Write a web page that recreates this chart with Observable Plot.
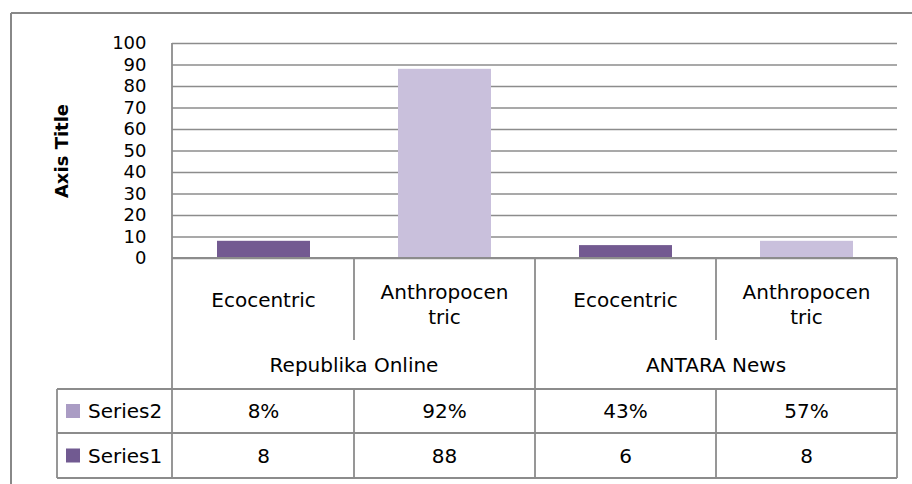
<!DOCTYPE html>
<html><head><meta charset="utf-8">
<script src="https://cdn.jsdelivr.net/npm/d3@7"></script>
<script src="https://cdn.jsdelivr.net/npm/@observablehq/plot@0.6"></script>
<style>
html,body{margin:0;padding:0;background:#fff;}
#chart{width:912px;height:484px;position:relative;overflow:hidden;}
</style></head><body><div id="chart"></div>
<script>
// ---- data ----
const groups = ["Republika Online", "Republika Online", "ANTARA News", "ANTARA News"];
const categories = ["Ecocentric", "Anthropocentric", "Ecocentric", "Anthropocentric"];
const categoryLines = [["Ecocentric"], ["Anthropocen", "tric"], ["Ecocentric"], ["Anthropocen", "tric"]];
const groupNames = ["Republika Online", "ANTARA News"];
const series1 = [8, 88, 6, 8];
const series2Pct = [8, 92, 43, 57];
const seriesNames = ["Series2", "Series1"];
const yTicks = [0, 10, 20, 30, 40, 50, 60, 70, 80, 90, 100];
const axisTitle = "Axis Title";

// ---- style ----
const FONT = "'DejaVu Sans', sans-serif";
const darkPurple = "#735a91";
const lightPurple = "#c9c0dc";
const swatchColors = {Series2: "#aa9cc4", Series1: "#715a91"};
const lineGray = "#8c8c8c";

const data = categories.map((c, i) => ({key: i + "|" + groups[i] + "|" + c, group: groups[i], category: c, value: series1[i]}));

const W = 912, H = 484;
const plot = Plot.plot({
  width: W, height: H,
  marginLeft: 172, marginRight: 15, marginTop: 43, marginBottom: 226,
  style: {fontFamily: FONT, fontSize: "20px", color: "#000", background: "#fff", overflow: "visible"},
  x: {domain: data.map(d => d.key), paddingInner: 0.487, paddingOuter: 0.2435, axis: null},
  y: {domain: [0, 100], label: null},
  color: {domain: ["Ecocentric", "Anthropocentric"], range: [darkPurple, lightPurple]},
  marks: [
    Plot.ruleY(yTicks, {stroke: lineGray, strokeWidth: 1.4}),
    Plot.barY(data, {x: "key", y: "value", fill: "category"}),
    Plot.axisY({ticks: yTicks, tickSize: 0, tickPadding: 26, label: null, fill: "#000", fontSize: 18}),
    Plot.text([axisTitle], {frameAnchor: "left", dx: -110, rotate: -90, textAnchor: "middle", fontWeight: "bold", fontSize: 18, fill: "#000", text: d => d})
  ]
});
document.getElementById("chart").appendChild(plot);

// ---- data table under the plot, positioned from Plot's x scale ----
const xs = plot.scale("x"), ys = plot.scale("y");
const step = xs.step, bw = xs.bandwidth;
const centers = xs.domain.map(k => xs.apply(k) + bw / 2);
const left = xs.range[0], right = xs.range[1];
const top0 = ys.apply(100), base = ys.apply(0);
const catBottom = 340, groupBottom = 389, row2Bottom = 433, row1Bottom = 478, legendLeft = 57;

const svg = d3.select(plot);
const g = svg.append("g").attr("stroke", lineGray).attr("stroke-width", 1.8).attr("fill", "none");
const line = (x1, y1, x2, y2) => g.append("line").attr("x1", x1).attr("y1", y1).attr("x2", x2).attr("y2", y2);

// outer chart border
const ob = svg.append("g").attr("stroke", "#888").attr("stroke-width", 2);
ob.append("line").attr("x1", 11).attr("y1", 13).attr("x2", W).attr("y2", 13);
ob.append("line").attr("x1", 11).attr("y1", 13).attr("x2", 11).attr("y2", H);

// axis + table borders
line(left, top0, left, row1Bottom);
line(left, base, right, base);
line(right, base, right, row1Bottom);
[groupBottom, row2Bottom, row1Bottom].forEach(y => line(legendLeft, y, right, y));
line(legendLeft, groupBottom, legendLeft, row1Bottom);
centers.forEach((c, i) => {
  if (i === 0) return;
  const xe = c - step / 2;
  if (groups[i] !== groups[i - 1]) line(xe, base, xe, row1Bottom);
  else { line(xe, base, xe, catBottom); line(xe, groupBottom, xe, row1Bottom); }
});

const t = svg.append("g").attr("font-family", FONT).attr("font-size", 20).attr("fill", "#000").attr("text-anchor", "middle");
// category labels
centers.forEach((c, i) => {
  const lines = categoryLines[i];
  const lh = 25;
  const mid = lines.length === 1 ? 300 : 304;
  lines.forEach((s, j) => {
    const cy = mid + (j - (lines.length - 1) / 2) * lh;
    t.append("text").attr("x", c).attr("y", cy + 7).text(s);
  });
});
// group labels
groupNames.forEach(gn => {
  const idx = groups.map((g2, i) => g2 === gn ? i : -1).filter(i => i >= 0);
  const cx = (centers[idx[0]] + centers[idx[idx.length - 1]]) / 2;
  t.append("text").attr("x", cx).attr("y", 365 + 7).text(gn);
});
// value rows with legend keys
const rows = [
  {name: seriesNames[0], vals: series2Pct.map(v => v + "%"), cy: (groupBottom + row2Bottom) / 2},
  {name: seriesNames[1], vals: series1.map(v => String(v)), cy: (row2Bottom + row1Bottom) / 2}
];
rows.forEach(r => {
  r.vals.forEach((v, i) => t.append("text").attr("x", centers[i]).attr("y", r.cy + 7).text(v));
  svg.append("rect").attr("x", 66).attr("y", r.cy - 7).attr("width", 14).attr("height", 14).attr("fill", swatchColors[r.name]);
  svg.append("text").attr("x", 88).attr("y", r.cy + 7).attr("text-anchor", "start")
    .attr("font-family", FONT).attr("font-size", 20).attr("fill", "#000").text(r.name);
});
</script></body></html>
